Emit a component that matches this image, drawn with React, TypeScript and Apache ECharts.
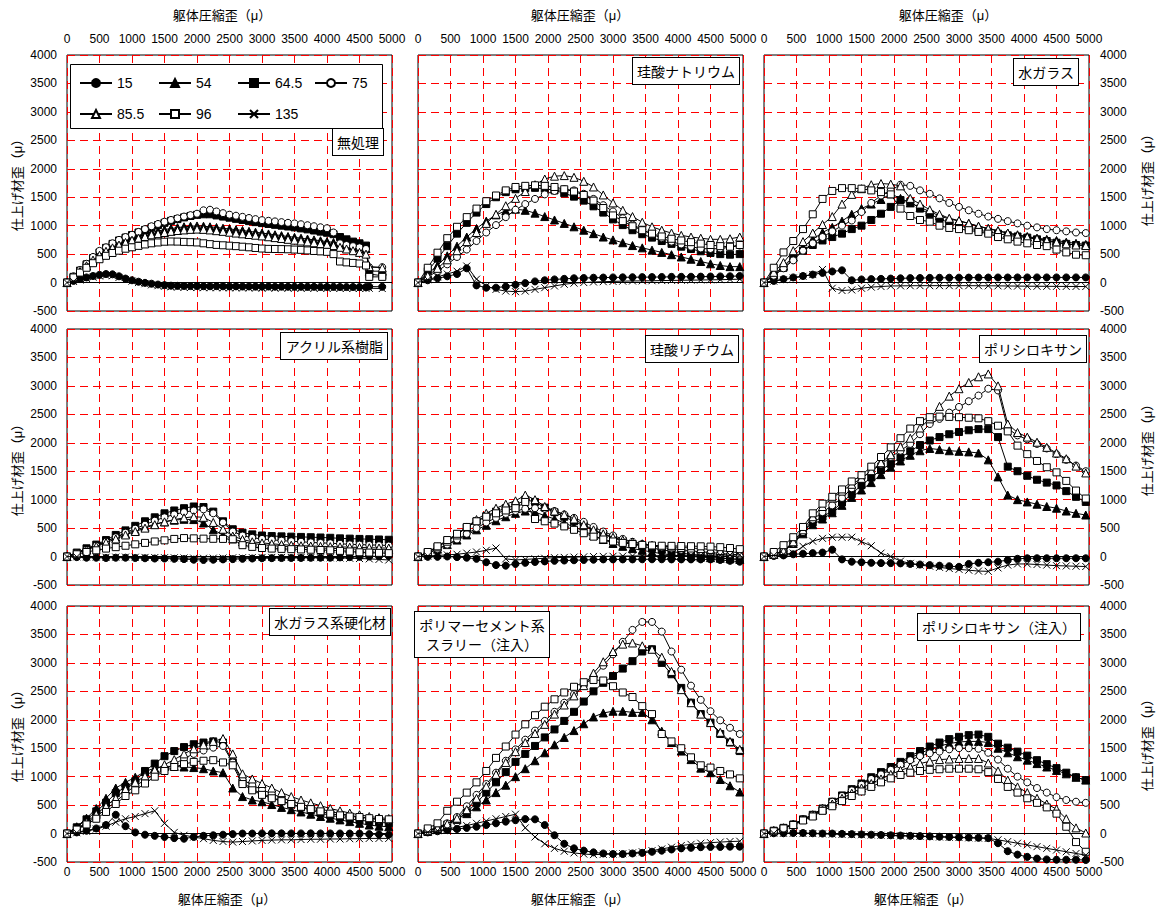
import React, { useEffect, useRef } from "react";
import * as echarts from "echarts";

const FONT = "'Liberation Sans', 'Noto Sans CJK JP', sans-serif";
const SERIES_NAMES = ["15", "54", "64.5", "75", "85.5", "96", "135"];
const PANEL_TITLES = [
  "無処理",
  "珪酸ナトリウム",
  "水ガラス",
  "アクリル系樹脂",
  "珪酸リチウム",
  "ポリシロキサン",
  "水ガラス系硬化材",
  "ポリマーセメント系\nスラリー（注入）",
  "ポリシロキサン（注入）",
];
const X_TITLE = "躯体圧縮歪（μ）";
const Y_TITLE = "仕上げ材歪（μ）";

// x sample positions (躯体圧縮歪)
const X_P1 = [
  0, 100, 200, 300, 400, 500, 600, 700, 800, 900, 1000, 1100, 1200, 1300, 1400, 1500, 1600, 1700, 1800, 1900,
  2000, 2100, 2200, 2300, 2400, 2500, 2600, 2700, 2800, 2900, 3000, 3100, 3200, 3300, 3400, 3500, 3600, 3700,
  3800, 3900, 4000, 4100, 4200, 4300, 4400, 4500, 4600, 4650, 4850,
];
const X_STD = [
  0, 150, 300, 450, 600, 750, 900, 1050, 1200, 1350, 1500, 1650, 1800, 1950, 2100, 2250, 2400, 2550, 2700, 2850,
  3000, 3150, 3300, 3450, 3600, 3750, 3900, 4050, 4200, 4350, 4500, 4650, 4800, 4950,
];

// Panel 1 無処理
const P1_15 = [0,30,60,90,115,135,150,145,110,70, 40,15,-5,-20,-35,-45,-55,-58,-60,-62, -61,-64,-65,-63,-66,-68,-67,-70,-69,-71, -72,-70,-73,-72,-74,-75,-74,-76,-75,-77, -77,-76,-78,-79,-78,-80,-80, -70,-75];
const P1_54 = [0,90,190,290,390,480,560,620,680,730, 775,815,850,880,905,930,950,965,980,990, 995,990,980,968,955,942,930,915,900,885, 870,855,840,825,810,795,780,765,750,735, 720,705,690,670,650,630,600, 200,200];
const P1_645 = [0,100,210,320,430,530,610,680,740,790, 835,880,925,970,1010,1050,1085,1115,1145,1170, 1190,1200,1200,1180,1160,1140,1120,1100,1080,1062, 1045,1030,1015,1000,985,970,952,935,915,895, 875,850,800,760,720,690,650, 150,120];
const P1_75 = [0,110,220,330,450,557,620,690,750,800, 840,890,940,990,1030,1070,1100,1130,1160,1185, 1210,1270,1280,1250,1220,1193,1175,1155,1135,1115, 1097,1085,1075,1062,1050,1040,1025,1008,990,972, 955,880,690,660,640,620,590, 270,270];
const P1_855 = [0,95,195,295,395,480,550,610,660,705, 745,780,810,840,860,880,900,915,925,935, 940,935,925,912,900,885,870,857,845,832, 820,805,790,775,760,745,730,715,700,685, 670,650,620,590,560,530,500, 280,260];
const P1_96 = [0,90,175,260,340,410,470,520,560,595, 620,645,670,690,705,718,722,720,715,710, 705,690,675,662,655,648,640,630,620,608, 598,592,590,588,585,580,575,565,555,548, 540,500,370,355,345,335,300, 100,100];
const P1_135 = [0,20,45,70,95,115,125,120,90,55, 25,0,-20,-40,-55,-65,-75,-80,-84,-86, -88,-90,-90,-91,-92,-92,-93,-94,-94,-95, -95,-96,-96,-97,-97,-98,-98,-99,-99,-100, -100,-100,-101,-101,-102,-102,-103, -100,-105];

// Panel 2 珪酸ナトリウム
const P2_15 = [0,40,75,110,150,250,-50,-90,-90,-70, -40,-10,20,40,55,65,75,80,85,88, 90,92,94,95,96,98,100,101,102,104, 106,108,110,115];
const P2_54 = [0,150,300,470,640,800,950,1080,1190,1260, 1290,1270,1220,1160,1100,1040,980,920,860,800, 750,700,650,610,570,530,490,450,410,370, 330,300,280,280];
const P2_645 = [0,200,420,640,860,1050,1230,1380,1500,1590, 1640,1660,1665,1650,1620,1570,1510,1440,1340,1230, 1110,1010,920,850,790,730,680,630,590,550, 520,500,490,500];
const P2_75 = [0,100,200,320,450,580,730,880,1010,1150, 1280,1380,1470,1550,1610,1640,1620,1560,1470,1360, 1250,1130,1020,930,850,780,720,670,630,600, 590,600,620,650];
const P2_855 = [0,120,250,400,560,720,880,1040,1200,1350, 1480,1600,1720,1820,1870,1880,1850,1780,1680,1540, 1400,1270,1160,1060,980,920,870,830,800,780, 760,760,770,800];
const P2_96 = [0,260,525,780,980,1150,1300,1430,1530,1620, 1680,1700,1710,1700,1680,1640,1600,1540,1440,1310, 1180,1080,990,920,860,810,770,740,710,685, 660,640,630,660];
const P2_135 = [0,50,100,150,200,290,60,-60,-120,-150, -160,-150,-120,-90,-60,-30,-10,0,10,15, 20,25,28,30,32,35,38,40,42,45, 48,50,55,60];

// Panel 3 水ガラス
const P3_15 = [0,30,60,90,115,140,170,195,215,40, 55,60,65,70,75,78,80,82,84,85, 86,87,88,88,89,89,90,90,90,90, 90,90,90,90];
const P3_54 = [0,140,290,450,620,760,880,970,1080,1200, 1300,1380,1460,1560,1480,1400,1320,1250,1170,1120, 1080,1040,990,950,910,870,840,810,780,760, 740,710,690,670];
const P3_645 = [0,120,260,420,560,660,740,800,860,940, 1000,1100,1210,1330,1450,1420,1300,1200,1120,1050, 1000,960,920,890,860,830,810,790,760,730, 700,680,660,650];
const P3_75 = [0,120,250,390,560,690,800,900,1000,1090, 1240,1400,1530,1620,1720,1700,1620,1560,1480,1400, 1330,1270,1210,1160,1120,1080,1040,1000,970,940, 920,900,880,870];
const P3_855 = [0,180,350,560,720,870,1020,1160,1380,1550, 1650,1720,1740,1730,1700,1480,1380,1280,1200,1130, 1090,1040,990,950,910,870,830,800,770,740, 710,680,660,650];
const P3_96 = [0,260,530,730,940,1200,1470,1610,1660,1660, 1650,1620,1590,1550,1300,1170,1100,1070,1000,960, 940,920,890,860,800,760,720,690,660,640, 580,530,490,480];
const P3_135 = [0,25,50,80,110,140,230,-100,-140,-130, -100,-80,-70,-60,-58,-56,-55,-55,-54,-54, -55,-55,-56,-57,-58,-60,-62,-64,-65,-66, -67,-68,-69,-70];

// Panel 4 アクリル系樹脂
const P4_15 = [0,-10,-20,-20,-25,-20,-20,-25,-30,-35, -35,-40,-45,-55,-60,-55,-50,-45,-40,-35, -30,-28,-26,-25,-24,-22,-20,-20,-15,-10, -5,0,5,10];
const P4_54 = [0,60,130,200,270,340,400,460,520,570, 610,640,655,650,590,470,380,310,260,230, 210,195,180,170,160,155,150,145,140,135, 130,125,120,120];
const P4_645 = [0,70,145,210,290,380,460,540,620,690, 760,810,850,880,870,790,620,480,420,390, 370,360,355,350,345,340,335,330,320,315, 310,305,300,295];
const P4_75 = [0,60,120,190,260,340,420,490,560,630, 690,740,780,810,830,760,600,440,370,330, 310,295,280,270,260,250,240,235,225,215, 210,205,200,195];
const P4_855 = [0,55,115,180,245,310,380,440,500,560, 610,650,680,700,690,600,480,360,300,260, 240,225,210,200,190,185,180,175,170,165, 160,155,150,150];
const P4_96 = [0,40,80,110,140,165,190,215,240,265, 285,310,325,320,315,312,310,305,200,170, 150,140,135,130,125,120,115,110,100,90, 75,70,65,60];
const P4_135 = [0,-5,-10,-10,-12,-10,-10,-12,-15,-18, -20,-22,-25,-28,-30,-28,-25,-22,-20,-18, -16,-15,-15,-15,-16,-18,-20,-22,-25,-30, -35,-40,-50,-60];

// Panel 5 珪酸リチウム
const P5_15 = [0,-5,-5,0,-10,-20,-40,-100,-150,-160, -130,-110,-95,-85,-75,-70,-65,-60,-55,-50, -50,-50,-50,-48,-48,-48,-50,-50,-50,-50, -50,-60,-75,-90];
const P5_54 = [0,60,130,210,290,380,470,550,630,700, 760,800,780,720,660,590,520,450,370,300, 230,180,140,110,80,50,30,10,0,-10, -20,-30,-40,-50];
const P5_645 = [0,75,170,280,390,510,620,710,790,850, 900,1000,960,860,780,700,620,540,460,390, 330,270,220,180,150,120,90,60,40,20, 0,-20,-40,-50];
const P5_75 = [0,60,130,210,300,400,500,600,680,750, 800,840,850,840,800,740,680,610,520,440, 370,310,260,220,190,160,140,120,100,85, 70,55,40,30];
const P5_855 = [0,70,170,270,380,520,650,760,850,920, 980,1080,1000,880,800,740,660,560,470,400, 340,290,255,225,200,185,170,160,150,140, 125,105,85,65];
const P5_96 = [0,80,180,290,400,520,620,700,760,810, 850,960,660,620,580,530,470,410,350,300, 265,240,220,205,195,190,188,185,182,180, 175,165,150,130];
const P5_135 = [0,10,20,30,40,60,80,110,150,-40, -60,-50,-40,-30,-20,-15,-10,-5,0,3, 5,8,10,12,14,16,18,20,22,24, 25,27,28,30];

// Panel 6 ポリシロキサン
const P6_15 = [0,10,20,40,50,60,70,120,-50,-90, -100,-110,-115,-115,-120,-130,-140,-150,-160,-170, -180,-130,-110,-100,-90,-60,-40,-30,-30,-30, -30,-30,-30,-30];
const P6_54 = [0,40,100,230,400,560,660,770,900,1040, 1170,1300,1440,1570,1680,1780,1860,1900,1880,1860, 1850,1840,1820,1700,1400,1080,1000,960,920,880, 850,800,760,730];
const P6_645 = [0,40,100,250,430,600,700,800,950,1100, 1255,1390,1520,1630,1740,1850,1960,2040,2100,2150, 2190,2220,2240,2240,2100,1580,1500,1420,1350,1300, 1250,1150,1050,960];
const P6_75 = [0,30,90,230,430,650,780,900,1030,1200, 1375,1500,1620,1750,1860,1980,2150,2330,2420,2530, 2630,2730,2830,2950,2920,2250,2130,2060,1980,1900, 1800,1700,1600,1500];
const P6_855 = [0,40,100,260,470,700,880,1030,1150,1270, 1375,1510,1650,1790,1930,2080,2260,2420,2640,2820, 2950,3060,3160,3210,3000,2330,2180,2100,2010,1920, 1820,1720,1590,1470];
const P6_96 = [0,80,200,340,520,760,930,1050,1180,1320, 1430,1580,1750,1920,2080,2250,2380,2450,2460,2455, 2450,2440,2430,2380,2300,2200,1950,1800,1680,1570, 1480,1330,1160,1020];
const P6_135 = [0,20,40,60,180,270,320,340,340,340, 260,190,60,0,-80,-120,-150,-170,-190,-210, -225,-240,-255,-260,-200,-150,-130,-130,-140,-150, -160,-165,-170,-175];

// Panel 7 水ガラス系硬化材
const P7_15 = [0,20,50,90,150,330,130,20,-20,-40, -60,-80,-90,-60,-40,-30,-20,-10,0,0, 2,3,3,2,2,3,2,2,1,0, 0,-10,-15,-20];
const P7_54 = [0,120,270,440,620,800,900,990,1090,1150, 1180,1180,1170,1160,1140,1100,1070,800,650,590, 560,510,460,420,380,340,300,270,240,210, 180,150,130,120];
const P7_645 = [0,110,250,390,540,710,820,920,1100,1230, 1360,1450,1520,1570,1600,1620,1600,1250,900,780, 700,640,570,510,460,410,360,320,290,260, 235,215,200,180];
const P7_75 = [0,70,180,300,430,560,710,840,940,1040, 1120,1220,1320,1400,1460,1510,1540,1250,950,850, 770,700,630,570,520,470,430,390,350,320, 290,265,245,235];
const P7_855 = [0,80,200,340,480,620,780,900,1010,1120, 1210,1300,1400,1490,1560,1620,1670,1400,1050,960, 880,800,720,650,590,540,490,440,400,360, 330,300,280,265];
const P7_96 = [0,70,160,260,380,520,660,760,880,1000, 1100,1170,1220,1260,1280,1290,1250,1200,870,760, 680,620,570,520,470,430,390,350,320,300, 290,270,255,250];
const P7_135 = [0,15,40,80,130,200,260,300,350,400, 180,20,-30,-60,-90,-120,-140,-150,-140,-130, -120,-115,-110,-110,-105,-100,-100,-95,-95,-90, -90,-85,-85,-85];

// Panel 8 ポリマーセメント系スラリー（注入）
const P8_15 = [0,20,40,60,80,100,120,150,180,210, 235,255,250,150,-30,-180,-260,-300,-330,-350, -360,-360,-350,-340,-320,-300,-280,-260,-250,-240, -235,-235,-230,-230];
const P8_54 = [0,40,90,150,250,350,470,590,720,850, 1000,1140,1280,1420,1560,1690,1810,1930,2050,2120, 2150,2150,2130,2130,2000,1800,1600,1450,1300,1150, 1070,950,840,730];
const P8_645 = [0,40,90,160,250,370,540,720,900,1080, 1260,1400,1540,1690,1830,1980,2140,2320,2500,2650, 2770,2900,3030,3200,3240,3000,2800,2560,2300,2100, 1950,1750,1600,1450];
const P8_75 = [0,50,110,180,290,480,680,870,1070,1280, 1480,1650,1810,1980,2140,2300,2450,2600,2760,2950, 3150,3370,3580,3720,3720,3550,3200,2880,2600,2350, 2150,1990,1860,1750];
const P8_855 = [0,50,100,170,270,420,620,830,1040,1250, 1440,1600,1760,1920,2100,2260,2420,2600,2820,3020, 3200,3330,3350,3300,3240,3100,2850,2530,2300,2100, 1950,1780,1620,1480];
const P8_96 = [0,90,180,400,560,720,900,1100,1330,1530, 1740,1920,2080,2230,2360,2480,2580,2660,2700,2690, 2590,2480,2400,2240,2100,1750,1620,1500,1340,1200, 1160,1100,1040,970];
const P8_135 = [0,20,50,80,110,140,180,220,260,300, 340,100,-60,-180,-260,-310,-340,-360,-370,-365, -360,-355,-340,-320,-300,-270,-240,-210,-190,-170, -160,-150,-140,-135];

// Panel 9 ポリシロキサン（注入）
const P9_15 = [0,5,5,10,10,5,0,0,-5,-10, -15,-20,-25,-30,-35,-40,-45,-50,-55,-60, -65,-70,-75,-80,-170,-310,-370,-410,-440,-455, -460,-460,-460,-465];
const P9_54 = [0,50,100,160,250,330,440,550,660,770, 870,970,1060,1150,1240,1330,1410,1480,1540,1580, 1610,1620,1620,1600,1500,1420,1350,1290,1230,1170, 1110,1050,990,940];
const P9_645 = [0,50,100,160,250,330,440,560,670,780, 880,990,1080,1170,1260,1360,1450,1530,1600,1660, 1700,1730,1740,1700,1580,1510,1440,1370,1290,1220, 1150,1070,990,940];
const P9_75 = [0,50,100,160,250,330,440,560,660,760, 860,960,1040,1120,1210,1290,1360,1410,1440,1480, 1500,1500,1490,1420,1300,1140,1000,900,800,720, 640,590,560,540];
const P9_855 = [0,50,100,160,250,320,420,520,620,710, 800,880,960,1040,1110,1170,1230,1270,1300,1310, 1320,1320,1320,1240,1100,940,820,720,620,520, 430,260,100,10];
const P9_96 = [0,40,90,150,230,300,400,480,570,660, 740,820,900,970,1030,1070,1100,1120,1130,1140, 1140,1140,1130,1080,960,820,720,620,540,460, 350,120,-150,-320];
const P9_135 = [0,5,5,5,0,0,-5,-10,-15,-20, -20,-25,-30,-35,-40,-45,-50,-55,-60,-65, -70,-75,-80,-85,-110,-140,-170,-200,-230,-260, -290,-320,-350,-380];

const PANELS = [
  { x: X_P1, ys: [P1_15, P1_54, P1_645, P1_75, P1_855, P1_96, P1_135] },
  { x: X_STD, ys: [P2_15, P2_54, P2_645, P2_75, P2_855, P2_96, P2_135] },
  { x: X_STD, ys: [P3_15, P3_54, P3_645, P3_75, P3_855, P3_96, P3_135] },
  { x: X_STD, ys: [P4_15, P4_54, P4_645, P4_75, P4_855, P4_96, P4_135] },
  { x: X_STD, ys: [P5_15, P5_54, P5_645, P5_75, P5_855, P5_96, P5_135] },
  { x: X_STD, ys: [P6_15, P6_54, P6_645, P6_75, P6_855, P6_96, P6_135] },
  { x: X_STD, ys: [P7_15, P7_54, P7_645, P7_75, P7_855, P7_96, P7_135] },
  { x: X_STD, ys: [P8_15, P8_54, P8_645, P8_75, P8_855, P8_96, P8_135] },
  { x: X_STD, ys: [P9_15, P9_54, P9_645, P9_75, P9_855, P9_96, P9_135] },
];

// layout
const GRID_LEFTS = [67, 418, 764];
const GRID_TOPS = [55, 329, 606];
const GRID_W = 325;
const GRID_H = 256;

const SYMBOLS = ["circle", "triangle", "rect", "circle", "triangle", "rect", "path://M0,0L10,10M10,0L0,10"];
const FILLS = ["#000", "#000", "#000", "#fff", "#fff", "#fff", "#000"];
const SIZES = [7, 8, 7, 7, 8, 7, 7];

// label boxes: [anchorX, top, align]
const TITLE_POS: [number, number, string][] = [
  [383, 129, "right"],
  [739, 58, "right"],
  [1078, 59, "right"],
  [387, 333, "right"],
  [738, 336, "right"],
  [1086, 336, "right"],
  [390, 609, "right"],
  [482, 612, "center"],
  [1080, 614, "right"],
];
const LEGEND_POS: [number, number][] = [
  [79, 76], [158, 76], [237, 76], [314, 76],
  [79, 107], [158, 107], [237, 107],
];

function buildOption() {
  const gridStyle = { color: "#ff0000", width: 1, type: [8, 5] as number[] };
  const plain = (v: number) => String(v);
  const grid = PANELS.map((_, p) => ({
    left: GRID_LEFTS[p % 3],
    top: GRID_TOPS[Math.floor(p / 3)],
    width: GRID_W,
    height: GRID_H,
    show: true,
    borderColor: "#000",
    borderWidth: 1,
    backgroundColor: "#fff",
  }));
  const xAxis = PANELS.map((_, p) => {
    const row = Math.floor(p / 3);
    return {
      type: "value",
      gridIndex: p,
      min: 0,
      max: 5000,
      interval: 500,
      position: row === 0 ? "top" : "bottom",
      axisLine: { show: false },
      axisTick: { show: false },
      axisLabel: {
        show: row !== 1,
        margin: row === 0 ? 10 : 4,
        fontSize: 12,
        color: "#000",
        fontFamily: FONT,
        formatter: plain,
      },
      splitLine: { show: true, lineStyle: gridStyle },
    };
  });
  const yAxis = PANELS.map((_, p) => {
    const col = p % 3;
    return {
      type: "value",
      gridIndex: p,
      min: -500,
      max: 4000,
      interval: 500,
      position: col === 2 ? "right" : "left",
      axisLine: { show: false },
      axisTick: { show: false },
      axisLabel: {
        show: col !== 1,
        margin: col === 0 ? 10 : 11,
        fontSize: 12,
        color: "#000",
        fontFamily: FONT,
        formatter: plain,
      },
      splitLine: { show: true, lineStyle: gridStyle },
    };
  });
  const series: any[] = [];
  PANELS.forEach((panel, p) => {
    panel.ys.forEach((ys, s) => {
      const data = panel.x.map((xv, i) => [xv, ys[i]]).filter((d) => d[1] !== null && d[1] !== undefined);
      const ser: any = {
        type: "line",
        name: SERIES_NAMES[s],
        xAxisIndex: p,
        yAxisIndex: p,
        data,
        symbol: SYMBOLS[s],
        symbolSize: SIZES[s],
        showSymbol: true,
        showAllSymbol: true,
        lineStyle: { color: "#000", width: 1 },
        itemStyle: { color: FILLS[s], borderColor: "#000", borderWidth: 1 },
        emphasis: { disabled: true },
        z: 2 + s,
      };
      if (s === 0) {
        ser.markLine = {
          silent: true,
          symbol: ["none", "none"],
          label: { show: false },
          lineStyle: { color: "#000", width: 1, type: "solid" },
          data: [{ yAxis: 0 }],
        };
      }
      series.push(ser);
    });
  });
  const legend = SERIES_NAMES.map((name, i) => ({
    data: [name],
    left: LEGEND_POS[i][0],
    top: LEGEND_POS[i][1],
    itemWidth: 32,
    itemHeight: 10,
    padding: 0,
    selectedMode: false,
    z: 101,
    textStyle: { fontSize: 14, color: "#000", fontFamily: FONT },
  }));
  const graphic: any[] = [
    {
      type: "rect",
      shape: { x: 70.5, y: 64.5, width: 312, height: 64 },
      style: { fill: "#fff", stroke: "#000", lineWidth: 1 },
      z: 100,
    },
  ];
  PANEL_TITLES.forEach((t, i) => {
    const [ax, top, align] = TITLE_POS[i];
    graphic.push({
      type: "text",
      x: ax,
      y: top,
      z: 101,
      style: {
        text: t,
        fontSize: 14,
        fontFamily: FONT,
        fill: "#000",
        align,
        verticalAlign: "top",
        lineHeight: 19,
        backgroundColor: "#fff",
        borderColor: "#000",
        borderWidth: 1,
        padding: [4, 4, 3, 4],
      },
    });
  });
  const axisTitleStyle = { fontSize: 13, fontFamily: FONT, fill: "#000", align: "center", verticalAlign: "middle" };
  [222, 580, 948].forEach((cx) => graphic.push({ type: "text", x: cx, y: 15, style: { ...axisTitleStyle, text: X_TITLE } }));
  [227, 580, 923].forEach((cx) => graphic.push({ type: "text", x: cx, y: 899, style: { ...axisTitleStyle, text: X_TITLE } }));
  [182, 467, 733].forEach((cy) =>
    graphic.push({ type: "text", x: 17, y: cy, rotation: Math.PI / 2, style: { ...axisTitleStyle, text: Y_TITLE } })
  );
  [177, 447, 742].forEach((cy) =>
    graphic.push({ type: "text", x: 1147, y: cy, rotation: Math.PI / 2, style: { ...axisTitleStyle, text: Y_TITLE } })
  );

  return {
    animation: false,
    backgroundColor: "#fff",
    textStyle: { fontFamily: FONT },
    grid,
    xAxis,
    yAxis,
    series,
    legend,
    graphic,
  };
}

export default function App() {
  const ref = useRef<HTMLDivElement>(null);
  useEffect(() => {
    if (!ref.current) return;
    const chart = echarts.init(ref.current, undefined, { renderer: "svg" });
    chart.setOption(buildOption() as any);
    return () => chart.dispose();
  }, []);
  return (
    <div
      ref={ref}
      style={{ position: "absolute", left: 0, top: 0, width: 1161, height: 909, background: "#fff" }}
    />
  );
}
